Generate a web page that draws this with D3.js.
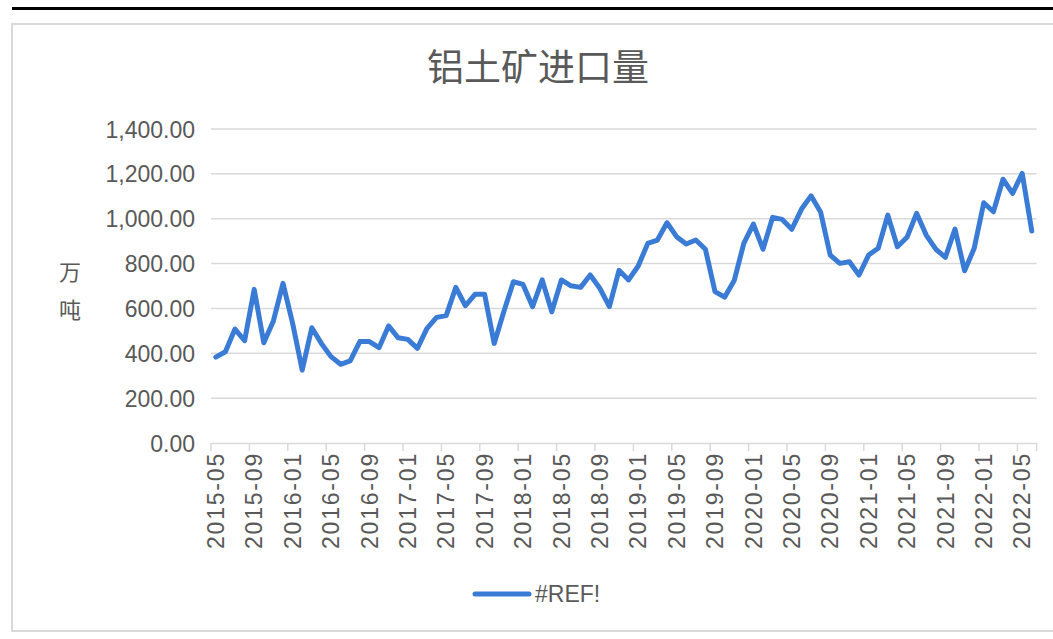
<!DOCTYPE html>
<html>
<head>
<meta charset="utf-8">
<script src="https://cdn.jsdelivr.net/npm/d3@7"></script>
<style>
  body { margin: 0; background: #fff; }
  svg { display: block; }
  text { font-family: "Liberation Sans", Arial, sans-serif; fill: #595959; }
</style>
</head>
<body>
<svg width="1053" height="639"></svg>
<script>
// 月份 (2015-05 ~ 2022-06)
const months = d3.timeMonth.range(new Date(2015, 4, 1), new Date(2022, 6, 1)).map(d3.timeFormat("%Y-%m"));

// 铝土矿进口量, 万吨
const imports = [
  383, 407, 508, 456, 685, 447, 544, 712, 534, 325, 514, 444,
  385, 351, 366, 452, 452, 425, 522, 469, 462, 422, 511, 560,
  568, 694, 612, 663, 663, 444, 585, 719, 707, 608, 727, 585,
  727, 701, 694, 749, 690, 608, 770, 727, 789, 890, 905, 982,
  920, 887, 905, 864, 675, 650, 724, 890, 976, 864, 1006, 997,
  953, 1042, 1102, 1030, 838, 801, 808, 749, 838, 868, 1016, 875,
  917, 1024, 927, 864, 828, 954, 768, 868, 1071, 1031, 1176, 1113,
  1202, 945
];

const xTickLabels = [
  "2015-05", "2015-09", "2016-01", "2016-05", "2016-09", "2017-01",
  "2017-05", "2017-09", "2018-01", "2018-05", "2018-09", "2019-01",
  "2019-05", "2019-09", "2020-01", "2020-05", "2020-09", "2021-01",
  "2021-05", "2021-09", "2022-01", "2022-05"
];
const yTicks = [0, 200, 400, 600, 800, 1000, 1200, 1400];

const svg = d3.select("svg");

// 顶部黑线 + 图表边框
svg.append("rect").attr("x", 12).attr("y", 7).attr("width", 1041).attr("height", 3).attr("fill", "#000");
svg.append("rect")
  .attr("x", 12).attr("y", 24).attr("width", 1050).attr("height", 607)
  .attr("fill", "#fff").attr("stroke", "#d9d9d9").attr("stroke-width", 2);

const xScale = d3.scaleBand().domain(months).range([211, 1036.6]).padding(0);
const yScale = d3.scaleLinear().domain([0, 1400]).range([443, 129]);

// 网格线
svg.append("g")
  .selectAll("line")
  .data(yTicks.filter(d => d > 0))
  .enter()
  .append("line")
  .attr("x1", 211).attr("x2", 1036.6)
  .attr("y1", d => yScale(d)).attr("y2", d => yScale(d))
  .attr("stroke", "#d9d9d9").attr("stroke-width", 1.5);

// y轴
const yAxis = d3.axisLeft(yScale).tickValues(yTicks).tickFormat(d3.format(",.2f")).tickSize(0).tickPadding(16);
svg.append("g")
  .attr("transform", "translate(211,0)")
  .call(g => {
    g.call(yAxis);
    g.select(".domain").remove();
    g.selectAll("text").style("font-size", "23px").attr("fill", "#595959").attr("dy", "0.35em");
  });

// x轴
const xAxis = d3.axisBottom(xScale).tickValues(xTickLabels).tickSize(0).tickFormat(d => d);
svg.append("g")
  .attr("transform", "translate(0,443)")
  .call(g => {
    g.call(xAxis);
    g.select(".domain").attr("stroke", "#d9d9d9").attr("stroke-width", 1.5);
    g.selectAll(".tick text")
      .style("font-size", "23px")
      .style("letter-spacing", "1.8px")
      .attr("fill", "#595959")
      .attr("text-anchor", "end")
      .attr("transform", "rotate(-90)")
      .attr("x", -9).attr("y", 0).attr("dy", "0.36em");
  });

// 刻度线 (类别边界)
svg.append("g")
  .selectAll("line")
  .data(xTickLabels)
  .enter()
  .append("line")
  .attr("x1", d => xScale(d)).attr("x2", d => xScale(d))
  .attr("y1", 443).attr("y2", 451)
  .attr("stroke", "#d9d9d9").attr("stroke-width", 1.5);
svg.append("line")
  .attr("x1", 1036.6).attr("x2", 1036.6).attr("y1", 443).attr("y2", 451)
  .attr("stroke", "#d9d9d9").attr("stroke-width", 1.5);

// 折线
const line = d3.line()
  .x((d, i) => xScale(months[i]) + xScale.bandwidth() / 2)
  .y(d => yScale(d));
svg.append("path")
  .datum(imports)
  .attr("d", line)
  .attr("fill", "none")
  .attr("stroke", "#3a7bd5")
  .attr("stroke-width", 5)
  .attr("stroke-linejoin", "round")
  .attr("stroke-linecap", "round");

// 标题
svg.append("text")
  .attr("x", 538).attr("y", 68).attr("dy", "0.35em")
  .attr("text-anchor", "middle")
  .style("font-family", "'Noto Sans CJK SC', sans-serif")
  .style("font-size", "37px")
  .text("铝土矿进口量");

// y轴标题
svg.append("g")
  .selectAll("text")
  .data(["万", "吨"])
  .enter()
  .append("text")
  .attr("x", 70)
  .attr("y", (d, i) => 272 + i * 38)
  .attr("dy", "0.35em")
  .attr("text-anchor", "middle")
  .style("font-family", "'Noto Sans CJK SC', sans-serif")
  .style("font-size", "22px")
  .text(d => d);

// 图例
svg.append("line")
  .attr("x1", 475).attr("x2", 529).attr("y1", 594).attr("y2", 594)
  .attr("stroke", "#3a7bd5").attr("stroke-width", 5).attr("stroke-linecap", "round");
svg.append("text")
  .attr("x", 535).attr("y", 594).attr("dy", "0.35em")
  .style("font-size", "23px")
  .text("#REF!");
</script>
</body>
</html>
